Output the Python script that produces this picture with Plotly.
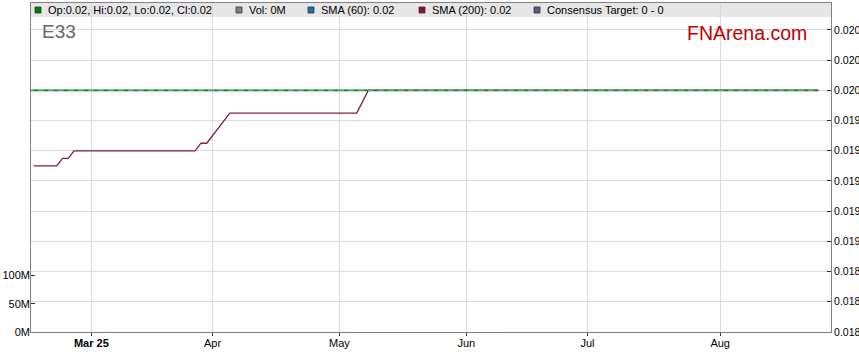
import plotly.graph_objects as go

# ---- data ----
price_dates = ["2025-02-14", "2025-08-26"]
price_close = [0.02, 0.02]

sma60_dates = ["2025-02-14", "2025-08-26"]
sma60_vals = [0.02, 0.02]

sma200_dates = ["2025-02-17", "2025-02-21", "2025-02-24", "2025-02-25", "2025-02-26",
                "2025-03-27", "2025-03-28", "2025-03-31", "2025-04-04", "2025-05-06",
                "2025-05-08", "2025-08-26"]
sma200_vals = [0.01950, 0.01950, 0.01955, 0.01955, 0.01960,
               0.01960, 0.01965, 0.01965, 0.01985, 0.01985,
               0.02000, 0.02000]

vol_dates = ["2025-02-17", "2025-08-26"]
vol_vals = [0, 0]

month_tickvals = ["2025-03-03", "2025-04-01", "2025-05-01", "2025-06-02", "2025-07-01", "2025-08-01"]
month_ticktext = ["<b>Mar 25</b>", "Apr", "May", "Jun", "Jul", "Aug"]

price_tickvals = [0.0184, 0.0186, 0.0188, 0.0190, 0.0192, 0.0194,
                  0.0196, 0.0198, 0.0200, 0.0202, 0.0204]
# labels as printed (cut to three decimals in the reference)
price_ticktext = ["0.018", "0.018", "0.018", "0.019", "0.019", "0.019",
                  "0.019", "0.019", "0.020", "0.020", "0.020"]

vol_tickvals = [0, 50e6, 100e6]
vol_ticktext = ["0M", "50M", "100M"]

legend_items = [
    ("#008000", "Op:0.02, Hi:0.02, Lo:0.02, Cl:0.02"),
    ("#808080", "Vol: 0M"),
    ("#1a6fb0", "SMA (60): 0.02"),
    ("#8b1030", "SMA (200): 0.02"),
    ("#5a5a8a", "Consensus Target: 0 - 0"),
]

# ---- layout geometry (pixels) ----
W, H = 859, 363
L, R, T, B = 31, 28, 3, 31
PW, PH = W - L - R, H - T - B


def px(x):
    return (x - L) / PW


def py(y):
    return 1 - (y - T) / PH


FONT = "Liberation Sans, Arial, sans-serif"

fig = go.Figure()
fig.add_trace(go.Bar(x=vol_dates, y=vol_vals, yaxis="y2", marker_color="#808080",
                     showlegend=False, hoverinfo="skip"))
fig.add_trace(go.Scatter(x=sma200_dates, y=sma200_vals, mode="lines",
                         line=dict(color="#80203f", width=1.3), showlegend=False))
fig.add_trace(go.Scatter(x=price_dates, y=price_close, mode="lines",
                         line=dict(color="#008000", width=1.6), showlegend=False))
fig.add_trace(go.Scatter(x=sma60_dates, y=sma60_vals, mode="lines",
                         line=dict(color="#7a9cc0", width=1, dash="6px,4px"), showlegend=False))

shapes = []
annotations = []
# legend bar
shapes.append(dict(type="rect", xref="paper", yref="paper", x0=0, x1=1,
                   y0=py(17), y1=1, fillcolor="#e6e6e6", line=dict(width=0), layer="below"))
legend_x = [35, 236, 308, 419, 534]
for (col, txt), lx in zip(legend_items, legend_x):
    shapes.append(dict(type="rect", xref="paper", yref="paper",
                       x0=px(lx), x1=px(lx + 6), y0=py(13), y1=py(7),
                       fillcolor=col, line=dict(color="#333333", width=0.8)))
    annotations.append(dict(xref="paper", yref="paper", x=px(lx + 11), y=py(10),
                            text=txt, showarrow=False, xanchor="left", yanchor="middle",
                            font=dict(family=FONT, size=11, color="#000000")))

annotations.append(dict(xref="paper", yref="paper", x=px(40), y=py(32), text="E33",
                        showarrow=False, xanchor="left", yanchor="middle",
                        font=dict(family=FONT, size=19, color="#666666")))
annotations.append(dict(xref="paper", yref="paper", x=px(809), y=py(33), text="FNArena.com",
                        showarrow=False, xanchor="right", yanchor="middle",
                        font=dict(family=FONT, size=19.5, color="#c00000")))

fig.update_layout(
    width=W, height=H,
    margin=dict(l=L, r=R, t=T, b=B, pad=0),
    paper_bgcolor="white", plot_bgcolor="white",
    showlegend=False,
    font=dict(family=FONT, size=11, color="#000000"),
    shapes=shapes, annotations=annotations,
    xaxis=dict(
        type="date",
        range=["2025-02-14 13:00", "2025-08-28 05:00"],
        rangebreaks=[dict(bounds=["sat", "mon"])],
        tickmode="array", tickvals=month_tickvals, ticktext=month_ticktext,
        showgrid=True, gridcolor="#dadada", gridwidth=1,
        showline=True, linecolor="#808080", linewidth=1, mirror=True,
        ticks="outside", ticklen=3, tickcolor="#333333",
        ticklabelstandoff=-2,
        tickfont=dict(family=FONT, size=11, color="#000000"),
        zeroline=False, automargin=False, fixedrange=True,
    ),
    yaxis=dict(
        side="right",
        range=[0.0184, 0.0205786],
        tickmode="array", tickvals=price_tickvals, ticktext=price_ticktext,
        showgrid=True, gridcolor="#dadada", gridwidth=1,
        showline=True, linecolor="#808080", linewidth=1, mirror=True,
        ticks="inside", ticklen=4, tickcolor="#333333",
        tickfont=dict(family=FONT, size=10.5, color="#000000"),
        zeroline=False, automargin=False,
    ),
    yaxis2=dict(
        overlaying="y", side="left", anchor="x",
        range=[0, 583e6],
        tickmode="array", tickvals=vol_tickvals, ticktext=vol_ticktext,
        showgrid=False, showline=False, zeroline=False,
        ticks="inside", ticklen=4, tickcolor="#333333",
        tickfont=dict(family=FONT, size=11, color="#000000"),
        automargin=False,
    ),
    bargap=0.2,
)

fig.write_html("out.html")
